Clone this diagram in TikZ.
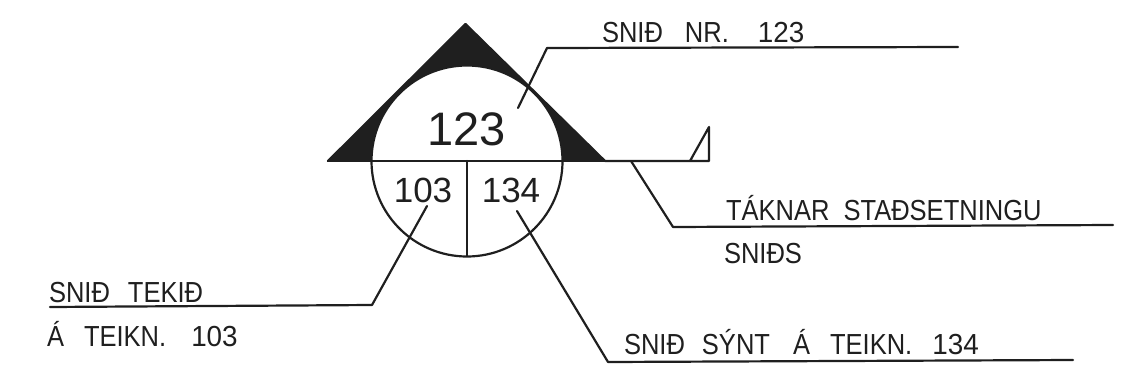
\documentclass[tikz,border=0pt]{standalone}
\usepackage{fontspec}
\setmainfont{Liberation Sans}
\newfontfamily\narrowfont[FakeStretch=0.88]{Liberation Sans}
\newfontfamily\digitfont[FakeStretch=0.96]{Liberation Sans}
\tikzset{
  ink/.style={draw=black!88,line width=2.2pt,line cap=round,line join=round},
  lbl/.style={anchor=base west,inner sep=0pt,outer sep=0pt,text=black!88,font=\narrowfont\fontsize{29}{29}\selectfont},
  big/.style={anchor=base,inner sep=0pt,outer sep=0pt,text=black!88,font=\fontsize{47}{47}\selectfont},
  mid/.style={anchor=base,inner sep=0pt,outer sep=0pt,text=black!88,font=\fontsize{35}{35}\selectfont},
}
\newcommand{\gap}[1]{\hspace{#1pt}}
\newcommand{\dg}[1]{{\digitfont\fontsize{29}{29}\selectfont #1}}
\begin{document}
\begin{tikzpicture}[x=1pt,y=-1pt]
\useasboundingbox (0,0) rectangle (1139,388);
% key points
\coordinate (apex) at (465.5,24);
\coordinate (tl) at (328,161);
\coordinate (tr) at (605,161);
\coordinate (c) at (467,160.5);
\coordinate (cl) at (371.5,161);
\coordinate (cr) at (562.5,161);
\coordinate (cb) at (467,256);
\coordinate (cm) at (467,161);
\coordinate (lineend) at (709,161);
\coordinate (flagb) at (690,161);
\coordinate (flagt) at (709,127);
% solid triangle with the circle cut out
\fill[black!88] (tl) -- (apex) -- (tr) -- cycle;
\fill[white] (cl) arc[start angle=180,end angle=0,radius=95.5pt] -- cycle;
\draw[ink] (cl) arc[start angle=180,end angle=0,radius=95.5pt];
\draw[ink] (cl) arc[start angle=180,end angle=360,radius=95.5pt];
\draw[ink] (tl) -- (apex) -- (tr) -- (lineend) -- (flagt) -- (flagb);
\draw[ink] (tl) -- (tr);
\draw[ink] (cm) -- (cb);
% numbers
\node[big] (n123) at (466.5,145) {123};
\node[mid] (n103) at (423,202) {103};
\node[mid] (n134) at (511,202) {134};
% labels
\node[lbl] (a) at (602,42) {SNIÐ\gap{22}NR.\gap{29}\dg{123}};
\node[lbl] (b) at (726,220) {TÁKNAR\gap{14}STAÐSETNINGU};
\node[lbl] (b2) at (724,263) {SNIÐS};
\node[lbl] (d) at (624,354) {SNIÐ\gap{17}SÝNT\gap{23}Á\gap{20}TEIKN.\gap{20}\dg{134}};
\node[lbl] (e) at (49,302) {SNIÐ\gap{18}TEKIÐ};
\node[lbl] (e2) at (47,346) {Á\gap{20}TEIKN.\gap{25}\dg{103}};
% leaders
\coordinate (a0) at (518,108); \coordinate (a1) at (547,48); \coordinate (a2) at (958,47);
\coordinate (b0) at (631,161); \coordinate (b1) at (673,227); \coordinate (b2e) at (1113,225);
\coordinate (d0) at (517,211); \coordinate (d1) at (608,362); \coordinate (d2) at (1073,360);
\coordinate (e0) at (427,206); \coordinate (e1) at (372,305); \coordinate (e2e) at (50,307);
\draw[ink] (a0) -- (a1) -- (a2);
\draw[ink] (b0) -- (b1) -- (b2e);
\draw[ink] (d0) -- (d1) -- (d2);
\draw[ink] (e0) -- (e1) -- (e2e);
\end{tikzpicture}
\end{document}
